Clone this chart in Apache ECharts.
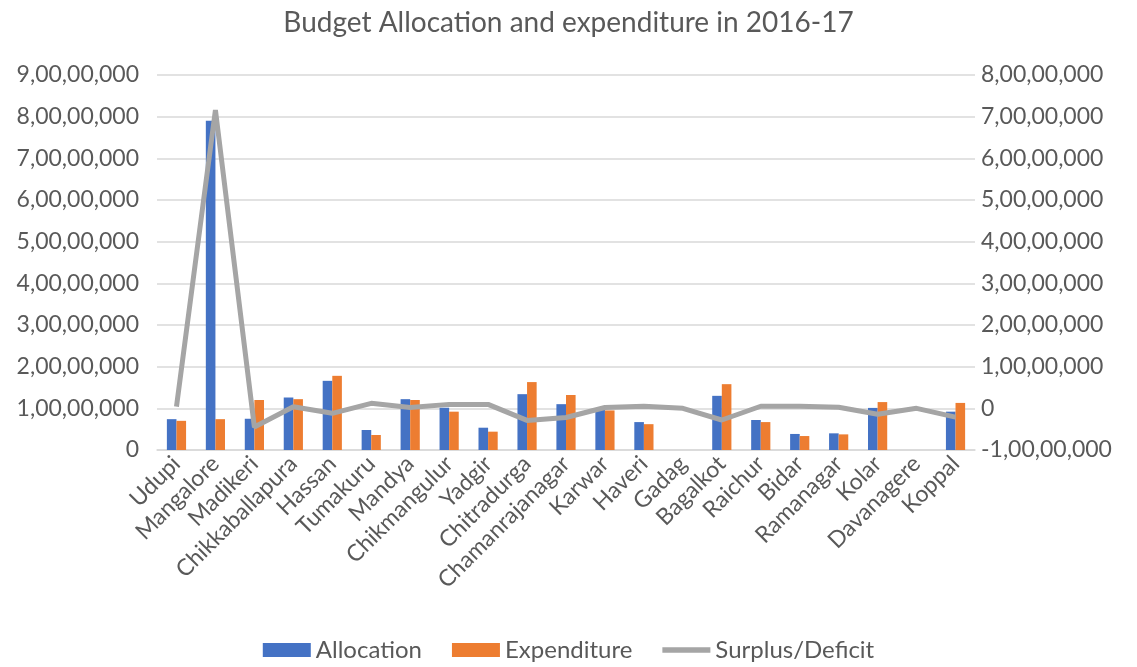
<!DOCTYPE html>
<html>
<head>
<meta charset="utf-8">
<script src="https://cdn.jsdelivr.net/npm/echarts@6/dist/echarts.min.js"></script>
<style>html,body{margin:0;padding:0;background:#fff}#c{width:1137px;height:667px}</style>
</head>
<body>
<div id="c"></div>
<script>
const categories = ["Udupi","Mangalore","Madikeri","Chikkaballapura","Hassan","Tumakuru","Mandya","Chikmangulur","Yadgir","Chitradurga","Chamanrajanagar","Karwar","Haveri","Gadag","Bagalkot","Raichur","Bidar","Ramanagar","Kolar","Davanagere","Koppal"];
const allocation = [7400000,79000000,7500000,12600000,16600000,4800000,12200000,10150000,5350000,13400000,11000000,9700000,6700000,0,13000000,7200000,3850000,4000000,10100000,0,9200000];
const expenditure = [7000000,7400000,12000000,12200000,17800000,3600000,12000000,9200000,4400000,16300000,13200000,9500000,6200000,0,15800000,6700000,3350000,3750000,11500000,0,11300000];
const surplus = [400000,71600000,-4500000,400000,-1200000,1200000,200000,950000,950000,-2900000,-2200000,200000,500000,0,-2800000,500000,500000,250000,-1400000,0,-2100000];

function indian(v){
  if (v === 0) return "0";
  const neg = v < 0; let s = String(Math.abs(Math.round(v)));
  let last3 = s.slice(-3), rest = s.slice(0,-3);
  if (rest.length) { rest = rest.replace(/\B(?=(\d{2})+(?!\d))/g, ","); s = rest + "," + last3; } else s = last3;
  return (neg ? "-" : "") + s;
}
const FONT = "Lato";
const TXT = "#595959";
const chart = echarts.init(document.getElementById('c'));
chart.setOption({
  animation:false,
  textStyle:{fontFamily:FONT},
  title:{text:"Budget Allocation and expenditure in 2016-17",left:"center",top:4,
    textStyle:{fontFamily:FONT,fontSize:28,fontWeight:"normal",color:TXT}},
  grid:{left:157,right:162,top:75,bottom:217,containLabel:false},
  legend:{bottom:0,left:"center",itemWidth:48,itemHeight:14,itemGap:30,
    textStyle:{fontFamily:FONT,fontSize:24,color:TXT},
    data:[{name:"Allocation",icon:"rect"},{name:"Expenditure",icon:"rect"},
          {name:"Surplus/Deficit",icon:"path://M0,0H100V11H0Z"}]},
  xAxis:{type:"category",data:categories,
    axisLine:{lineStyle:{color:"#D9D9D9",width:1.5}},axisTick:{show:false},
    axisLabel:{interval:0,rotate:45,fontFamily:FONT,fontSize:23,color:TXT,margin:10}},
  yAxis:[
    {type:"value",min:0,max:90000000,interval:10000000,
     axisLine:{show:false},axisTick:{show:false},
     splitLine:{lineStyle:{color:"#D9D9D9",width:1.5}},
     axisLabel:{formatter:indian,fontFamily:FONT,fontSize:23,color:TXT,margin:18}},
    {type:"value",min:-10000000,max:80000000,interval:10000000,
     axisLine:{show:false},axisTick:{show:false},splitLine:{show:false},
     axisLabel:{formatter:indian,fontFamily:FONT,fontSize:23,color:TXT,margin:6}}
  ],
  series:[
    {name:"Allocation",type:"bar",data:allocation,barWidth:9.6,barGap:"0%",
     itemStyle:{color:"#4472C4"}},
    {name:"Expenditure",type:"bar",data:expenditure,barWidth:9.6,barGap:"0%",
     itemStyle:{color:"#ED7D31"}},
    {name:"Surplus/Deficit",type:"line",yAxisIndex:1,data:surplus,symbol:"none",
     lineStyle:{color:"#A5A5A5",width:5},itemStyle:{color:"#A5A5A5"},z:5}
  ]
});
</script>
</body>
</html>
